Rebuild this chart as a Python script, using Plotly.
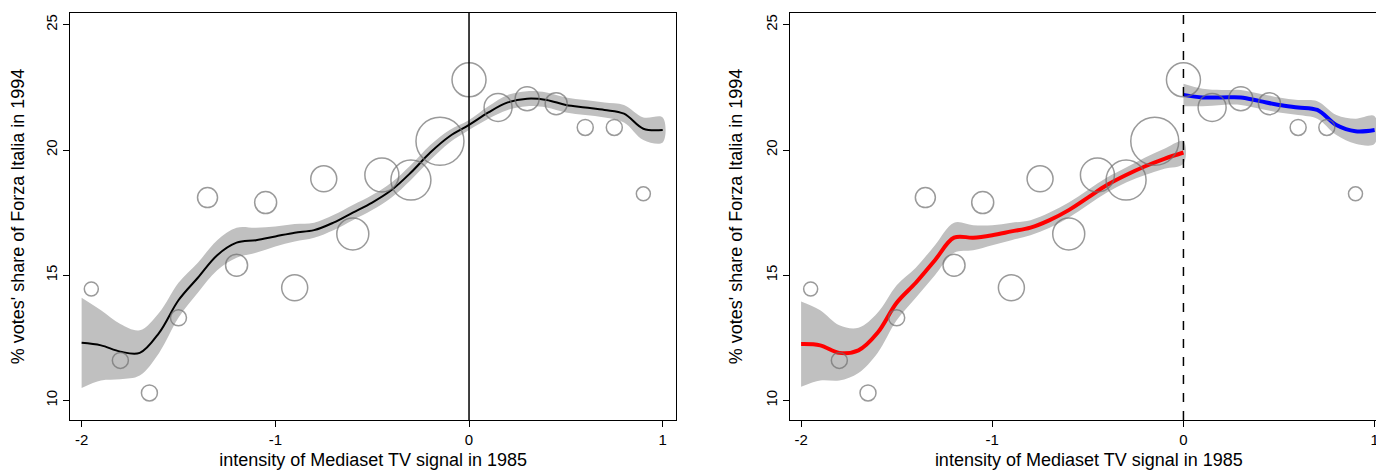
import plotly.graph_objects as go
from plotly.subplots import make_subplots

# binned scatter
bin_x = [-1.95, -1.8, -1.65, -1.5, -1.35, -1.2, -1.05, -0.9, -0.75, -0.6,
         -0.45, -0.3, -0.15, 0.0, 0.15, 0.3, 0.45, 0.6, 0.75, 0.9]
bin_y = [14.45, 11.6, 10.3, 13.3, 18.1, 15.4, 17.9, 14.5, 18.85, 16.65,
         19.0, 18.8, 20.35, 22.8, 21.7, 22.05, 21.85, 20.9, 20.9, 18.25]
bin_n = [14, 16, 16, 16, 20, 22, 22, 26, 26, 32, 34, 40, 48, 34, 28, 24, 22, 16, 16, 14]

# pooled smooth (left)
fit_x = [-2, -1.9, -1.8, -1.7, -1.6, -1.5, -1.4, -1.3, -1.2, -1.1, -1.0, -0.9, -0.8,
         -0.7, -0.6, -0.5, -0.4, -0.3, -0.2, -0.1, 0, 0.1, 0.2, 0.3, 0.4, 0.5, 0.6,
         0.7, 0.8, 0.9, 1.0]
fit_y = [12.3, 12.2, 11.95, 11.9, 12.7, 14.0, 14.9, 15.8, 16.3, 16.4, 16.55, 16.7, 16.8,
         17.1, 17.5, 17.9, 18.4, 19.1, 19.9, 20.55, 21.0, 21.5, 21.9, 22.05, 22.0, 21.8,
         21.7, 21.6, 21.45, 20.85, 20.8]
fit_se = [1.8, 1.4, 1.1, 0.9, 0.8, 0.7, 0.6, 0.6, 0.6, 0.5, 0.4, 0.35, 0.3,
          0.3, 0.3, 0.3, 0.3, 0.3, 0.3, 0.25, 0.2, 0.25, 0.3, 0.3, 0.3, 0.3,
          0.3, 0.3, 0.35, 0.45, 0.5]

# split smooth (right)
left_x = fit_x[:21]
left_y = [12.25, 12.2, 11.9, 12.0, 12.7, 13.9, 14.7, 15.6, 16.5, 16.5, 16.6, 16.75, 16.9,
          17.2, 17.6, 18.1, 18.6, 19.0, 19.35, 19.65, 19.9]
left_se = [1.7, 1.4, 1.1, 0.9, 0.8, 0.7, 0.6, 0.6, 0.6, 0.5, 0.4, 0.35, 0.3,
           0.3, 0.3, 0.3, 0.3, 0.3, 0.35, 0.4, 0.45]
right_x = fit_x[20:]
right_y = [22.2, 22.1, 22.1, 22.1, 21.95, 21.8, 21.7, 21.6, 21.0, 20.75, 20.8]
right_se = [0.45, 0.35, 0.3, 0.3, 0.3, 0.3, 0.3, 0.35, 0.4, 0.5, 0.55]

fig = make_subplots(rows=1, cols=2, horizontal_spacing=0.08)


def band(x, y, se, col, color, width):
    fig.add_trace(go.Scatter(x=x + x[::-1],
                             y=[a + b for a, b in zip(y, se)] + [a - b for a, b in zip(y, se)][::-1],
                             fill="toself", fillcolor="#c0c0c0", line=dict(width=0, shape="spline"),
                             hoverinfo="skip", showlegend=False), row=1, col=col)
    fig.add_trace(go.Scatter(x=x, y=y, mode="lines",
                             line=dict(color=color, width=width, shape="spline"),
                             showlegend=False), row=1, col=col)


def bubbles(col):
    fig.add_trace(go.Scatter(x=bin_x, y=bin_y, mode="markers",
                             marker=dict(size=bin_n, color="rgba(0,0,0,0)",
                                         line=dict(color="#707070", width=1.5)),
                             showlegend=False), row=1, col=col)


band(fit_x, fit_y, fit_se, 1, "black", 2)
bubbles(1)
band(left_x, left_y, left_se, 2, "red", 4)
band(right_x, right_y, right_se, 2, "blue", 4)
bubbles(2)

fig.add_shape(type="line", x0=0, x1=0, y0=0, y1=1, yref="y domain", xref="x",
              line=dict(color="black", width=1.5))
fig.add_shape(type="line", x0=0, x1=0, y0=0, y1=1, yref="y2 domain", xref="x2",
              line=dict(color="black", width=1.5, dash="dash"))

ax = dict(showgrid=False, zeroline=False, showline=True, mirror=True, linecolor="black",
          ticks="outside", ticklen=6, tickcolor="black")
fig.update_xaxes(range=[-2.06, 1.07], tickvals=[-2, -1, 0, 1], ticktext=["-2", "-1", "0", "1"],
                 title_text="intensity of Mediaset TV signal in 1985", title_standoff=6, **ax)
fig.update_yaxes(range=[9.22, 25.47], tickvals=[10, 15, 20, 25], tickangle=-90,
                 title_text="% votes' share of Forza Italia in 1994", **ax)
fig.update_layout(width=1384, height=472, plot_bgcolor="white", paper_bgcolor="white",
                  margin=dict(l=62, r=4, t=5, b=60, autoexpand=False),
                  font=dict(family="Liberation Sans", size=15, color="black"))
fig.update_xaxes(domain=[0.0, 0.460], row=1, col=1)
fig.update_xaxes(domain=[0.546, 1.0], row=1, col=2)
fig.write_html("out.html")
